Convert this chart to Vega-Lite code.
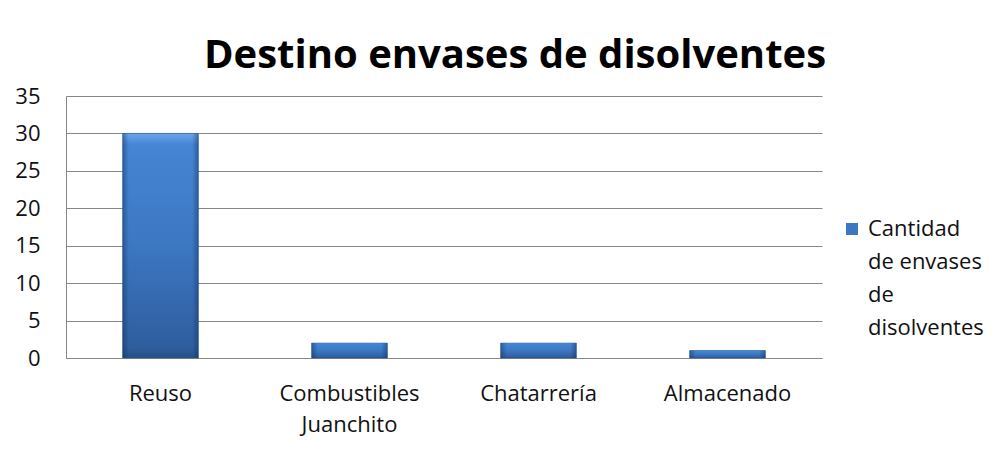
{
  "$schema": "https://vega.github.io/schema/vega-lite/v6.json",
  "width": 756,
  "height": 262,
  "autosize": {"type": "none"},
  "padding": {"left": 66, "top": 96, "right": 186, "bottom": 110},
  "background": "white",
  "config": {
    "view": {"stroke": null},
    "style": {"guide-label": {"lineHeight": 33}}
  },
  "title": {
    "text": "Destino envases de disolventes",
    "font": "Open Sans",
    "fontSize": 40,
    "fontWeight": "bold",
    "color": "#000000",
    "anchor": "middle",
    "dx": 71,
    "offset": 9
  },
  "data": {
    "values": [
      {"destino": "Reuso", "cantidad": 30},
      {"destino": "Combustibles Juanchito", "cantidad": 2},
      {"destino": "Chatarrería", "cantidad": 2},
      {"destino": "Almacenado", "cantidad": 1}
    ]
  },
  "encoding": {
    "x": {
      "field": "destino",
      "type": "nominal",
      "sort": null,
      "scale": {"paddingInner": 0, "paddingOuter": 0},
      "axis": {
        "title": null,
        "labelAngle": 0,
        "ticks": false,
        "domain": true,
        "domainColor": "#878787",
        "labelPadding": 25,
        "labelFont": "Open Sans",
        "labelFontSize": 22,
        "labelColor": "#111111",
        "labelLineHeight": 31,
        "labelExpr": "datum.label == 'Combustibles Juanchito' ? ['Combustibles', 'Juanchito'] : datum.label"
      }
    },
    "y": {
      "field": "cantidad",
      "type": "quantitative",
      "scale": {"domain": [0, 35], "nice": false},
      "axis": {
        "title": null,
        "values": [0, 5, 10, 15, 20, 25, 30, 35],
        "ticks": false,
        "domain": true,
        "domainColor": "#878787",
        "grid": true,
        "gridColor": "#878787",
        "gridOpacity": 1,
        "labelPadding": 26,
        "labelFont": "Open Sans",
        "labelFontSize": 22,
        "labelColor": "#111111"
      }
    }
  },
  "layer": [
    {
      "mark": {"type": "bar", "width": {"band": 0.4}},
      "encoding": {
        "color": {
          "datum": "Cantidad de envases de disolventes",
          "type": "nominal",
          "scale": {"range": ["#3C77C2"]},
          "legend": {
            "title": null,
            "orient": "none",
            "legendX": 775,
            "legendY": 112,
            "symbolType": "M-1,0.67H1V2.67H-1Z",
            "symbolSize": 144,
            "symbolStrokeWidth": 0,
            "labelFont": "Open Sans",
            "labelFontSize": 22,
            "labelColor": "#111111",
            "labelBaseline": "top",
            "labelOffset": 5,
            "labelLimit": 200,
            "labelExpr": "['Cantidad', 'de envases', 'de', 'disolventes']"
          }
        }
      }
    },
    {
      "mark": {
        "type": "bar",
        "width": {"band": 0.4},
        "color": {
          "gradient": "linear",
          "x1": 0, "y1": 0, "x2": 0, "y2": 1,
          "stops": [
            {"offset": 0, "color": "#6AA6EC"},
            {"offset": 0.05, "color": "#4685D4"},
            {"offset": 0.5, "color": "#3C77C2"},
            {"offset": 0.95, "color": "#2F5E9E"},
            {"offset": 1, "color": "#274F86"}
          ]
        },
        "stroke": "#2B568F",
        "strokeWidth": 0.5
      }
    },
    {
      "mark": {
        "type": "bar",
        "width": {"band": 0.4},
        "color": {
          "gradient": "linear",
          "x1": 0, "y1": 0, "x2": 1, "y2": 0,
          "stops": [
            {"offset": 0, "color": "rgba(20,45,90,0.45)"},
            {"offset": 0.08, "color": "rgba(20,45,90,0)"},
            {"offset": 0.92, "color": "rgba(20,45,90,0)"},
            {"offset": 1, "color": "rgba(20,45,90,0.45)"}
          ]
        }
      }
    }
  ]
}
